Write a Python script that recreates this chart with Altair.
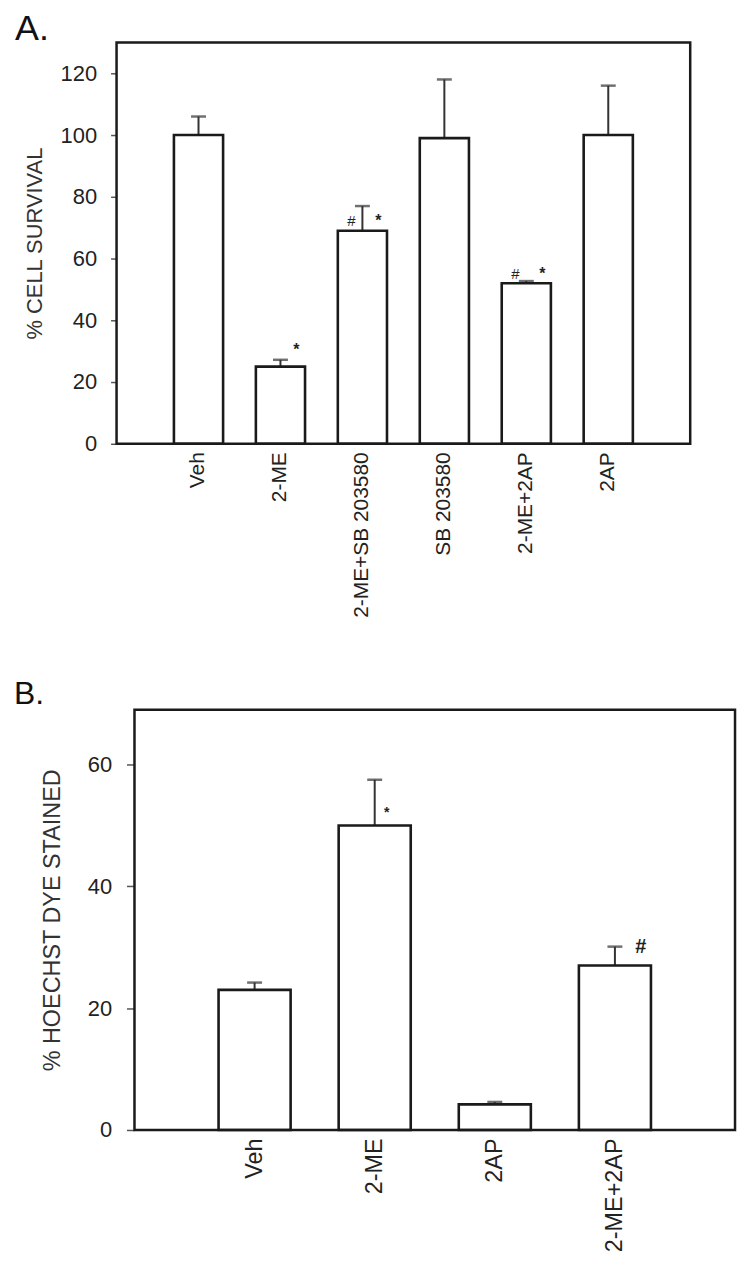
import altair as alt
import pandas as pd

# ---------------- data ----------------
cats_a = ["Veh", "2-ME", "2-ME+SB 203580", "SB 203580", "2-ME+2AP", "2AP"]
mean_a = [100, 25, 69, 99, 52, 100]
sem_a = [6, 2.2, 8, 19, 0.7, 16]

cats_b = ["Veh", "2-ME", "2AP", "2-ME+2AP"]
mean_b = [23, 50, 4.2, 27]
sem_b = [1.2, 7.5, 0.4, 3.1]

# significance marks (left of error bar / right of error bar)
ann_a_left_cat = ["2-ME+SB 203580", "2-ME+2AP"]
ann_a_left_y = [72, 55]
ann_a_left_txt = ["#", "#"]
ann_a_right_cat = ["2-ME", "2-ME+SB 203580", "2-ME+2AP"]
ann_a_right_y = [30.5, 72, 55]
ann_a_right_txt = ["*", "*", "*"]

ann_b_star_cat = ["2-ME"]
ann_b_star_y = [52]
ann_b_star_txt = ["*"]
ann_b_hash_cat = ["2-ME+2AP"]
ann_b_hash_y = [30]
ann_b_hash_txt = ["#"]

FONT = "Liberation Sans"
INK = "#1a1a1a"


def panel(cats, means, sems, ymax, yvals, ytitle, width, height, shift,
          fs_tick, fs_lab, fs_title, tick_size, label_pad, title_pad, letter,
          letter_x, letter_size, letter_y, texts):
    n = len(cats)
    total_w = width + shift
    step = width / (n + 1)
    pin = 0.4
    pout = (total_w / step - (n - pin)) / 2
    left_out = shift + 0.7 * step
    right_out = 0.7 * step
    align = left_out / (left_out + right_out)

    df = pd.DataFrame({"cat": cats, "mean": means, "sem": sems})
    df["top"] = df["mean"] + df["sem"]
    x = alt.X(
        "cat:N", sort=cats,
        scale=alt.Scale(paddingInner=pin, paddingOuter=pout, align=align),
        axis=alt.Axis(title=None, labelAngle=-90, ticks=False, domain=False,
                      labelFontSize=fs_lab, labelPadding=8, labelColor="#222",
                      labelFont=FONT, labelLimit=400),
    )
    y = alt.Y(
        "mean:Q", scale=alt.Scale(domain=[0, ymax], nice=False, zero=True),
        axis=alt.Axis(values=yvals, title=ytitle, grid=False, domain=False,
                      offset=-shift,
                      tickSize=tick_size, tickColor="#555", tickWidth=1.5,
                      labelFontSize=fs_tick, labelColor="#222", labelFont=FONT,
                      labelPadding=label_pad, titleFont=FONT,
                      titleFontSize=fs_title, titleFontWeight="normal",
                      titleColor="#333", titlePadding=title_pad),
    )
    base = alt.Chart(df)
    bars = base.mark_bar(fill="white", stroke=INK, strokeWidth=2.6).encode(x=x, y=y)
    err = base.mark_rule(color="#333", strokeWidth=2).encode(
        x=alt.X("cat:N", sort=cats), y="mean:Q", y2="top:Q")
    cap = base.mark_tick(color="#333", size=15, thickness=2.5).encode(
        x=alt.X("cat:N", sort=cats), y="top:Q")
    frame = alt.Chart(pd.DataFrame({"f": [0]})).mark_rect(
        fill="transparent", stroke=INK, strokeWidth=2.5).encode(
        x=alt.value(shift), x2=alt.value(total_w), y=alt.value(0),
        y2=alt.value(height))
    layers = [err, cap, bars]
    for (tc, ty, tt, dx, fs, fw) in texts:
        tdf = pd.DataFrame({"cat": tc, "yv": ty, "t": tt})
        layers.append(
            alt.Chart(tdf).mark_text(dx=dx, fontSize=fs, fontWeight=fw,
                                     font=FONT, color="#222", baseline="middle")
            .encode(x=alt.X("cat:N", sort=cats), y="yv:Q", text="t:N"))
    lab = alt.Chart(pd.DataFrame({"t": [letter]})).mark_text(
        align="left", baseline="alphabetic", fontSize=letter_size, font=FONT,
        color="#111").encode(x=alt.value(letter_x), y=alt.value(letter_y),
                             text="t:N")
    layers += [frame, lab]
    return alt.layer(*layers).properties(width=total_w, height=height)


chart_a = panel(
    cats_a, mean_a, sem_a, 130, [0, 20, 40, 60, 80, 100, 120], "% CELL SURVIVAL",
    576, 403, 0, 22, 21, 22, 6, 14, 14, "A.", -102, 36, -2,
    [(ann_a_left_cat, ann_a_left_y, ann_a_left_txt, -11, 15, "normal"),
     (ann_a_right_cat, ann_a_right_y, ann_a_right_txt, 16, 16, "bold")],
)

chart_b = panel(
    cats_b, mean_b, sem_b, 69, [0, 20, 40, 60], "% HOECHST DYE STAINED",
    603, 422, 18, 22, 23.5, 23.5, 8, 15, 23, "B.", -103, 32, -6,
    [(ann_b_star_cat, ann_b_star_y, ann_b_star_txt, 12, 14, "bold"),
     (ann_b_hash_cat, ann_b_hash_y, ann_b_hash_txt, 26, 20, "bold")],
)

chart = alt.concat(chart_a, chart_b, columns=1, spacing=59).properties(
    background="white",
    padding={"left": 5, "top": 0, "right": 5, "bottom": 5},
).configure_view(stroke="transparent")

chart.save("out.html", embed_options={"renderer": "svg", "actions": False})
